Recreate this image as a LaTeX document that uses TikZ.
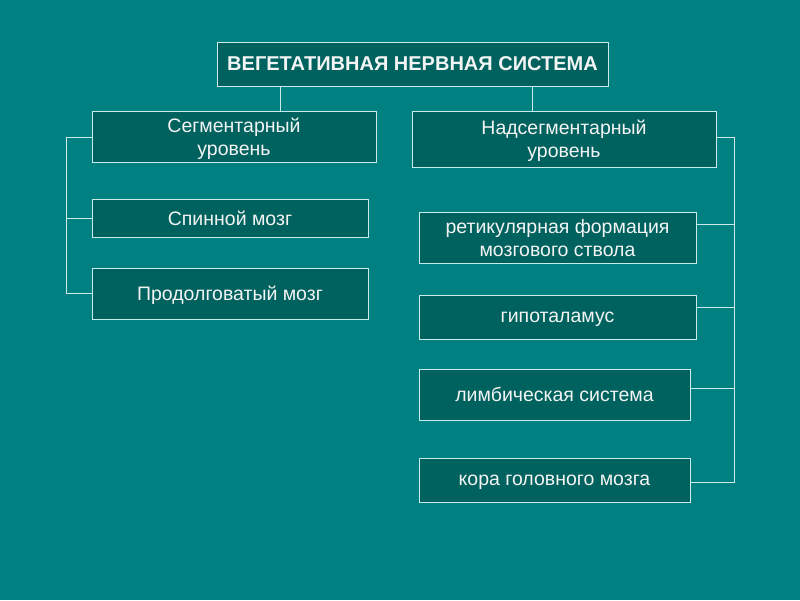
\documentclass[tikz,border=0pt]{standalone}
\usepackage{fontspec}
\setmainfont{Liberation Sans}
\definecolor{bg}{HTML}{008080}
\definecolor{boxfill}{HTML}{00625E}
\definecolor{edge}{HTML}{C8ECEC}
\definecolor{txt}{HTML}{F4F4F4}
\tikzset{
  box/.style={draw=edge, line width=0.9pt, fill=boxfill, text=txt, anchor=north west,
    inner sep=0pt, outer sep=0pt, align=center, text depth=0pt, font=\fontsize{19.5}{23}\selectfont},
  link/.style={draw=edge, line width=0.9pt}
}
\begin{document}
\begin{tikzpicture}[x=1pt,y=-1pt]
\fill[bg] (0,0) rectangle (800,600);
\useasboundingbox (0,0) rectangle (800,600);
% title
\node[box, minimum width=391pt, minimum height=44pt, font=\bfseries\fontsize{20}{22}\selectfont] (top) at (217,42) {ВЕГЕТАТИВНАЯ НЕРВНАЯ СИСТЕМА};
% left column
\node[box, minimum width=284pt, minimum height=51pt] (seg) at (92,111) {Сегментарный\\уровень};
\node[box, minimum width=276pt, minimum height=38pt] (spin) at (92,199) {Спинной мозг};
\node[box, minimum width=276pt, minimum height=51pt] (prod) at (92,268) {Продолговатый мозг};
% right column
\node[box, minimum width=304pt, minimum height=56pt] (nad) at (412,111) {Надсегментарный\\уровень};
\node[box, minimum width=277pt, minimum height=51pt] (ret) at (419,212) {ретикулярная формация\\мозгового ствола};
\node[box, minimum width=277pt, minimum height=44pt] (hyp) at (419,295) {гипоталамус};
\node[box, minimum width=271pt, minimum height=51pt] (lim) at (419,369) {лимбическая система};
\node[box, minimum width=271pt, minimum height=44pt] (kor) at (419,458) {кора головного мозга};
% connectors from title
\coordinate (c1) at (280,0);
\coordinate (c2) at (532,0);
\draw[link] (c1 |- top.south) -- (c1 |- seg.north);
\draw[link] (c2 |- top.south) -- (c2 |- nad.north);
% left bracket
\coordinate (lb) at (66,0);
\draw[link] ([yshift=-0.5pt]seg.west) -- ([yshift=-0.5pt]seg.west -| lb) -- (lb |- prod.west) -- (prod.west);
\draw[link] (spin.west) -- (lb |- spin.west);
% right bracket
\coordinate (rb) at (734,0);
\draw[link] ([yshift=2pt]nad.east) -- ([yshift=2pt]nad.east -| rb) -- ([yshift=-2pt]kor.east -| rb) -- ([yshift=-2pt]kor.east);
\draw[link] ([yshift=13pt]ret.east) -- ([yshift=13pt]ret.east -| rb);
\draw[link] ([yshift=10pt]hyp.east) -- ([yshift=10pt]hyp.east -| rb);
\draw[link] ([yshift=6.5pt]lim.east) -- ([yshift=6.5pt]lim.east -| rb);
\end{tikzpicture}
\end{document}
